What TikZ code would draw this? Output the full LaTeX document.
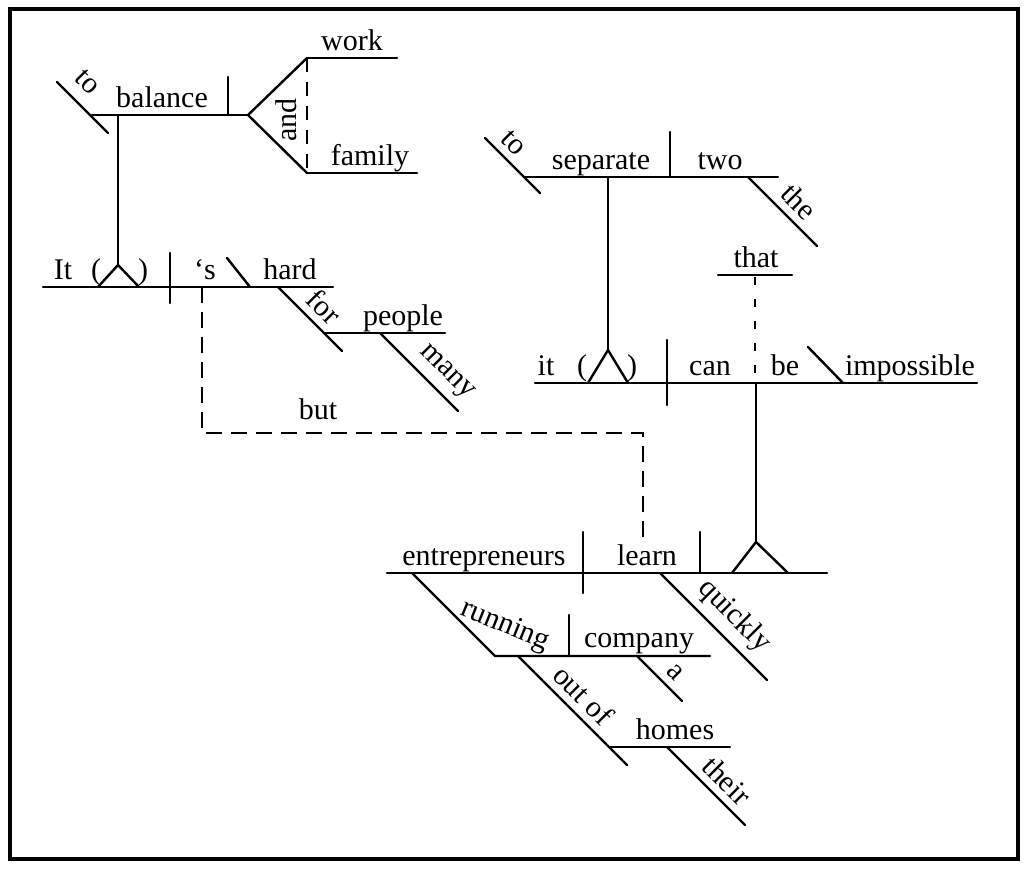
\documentclass[tikz,border=0pt]{standalone}
\usepackage{fontspec}
\setmainfont{Liberation Serif}
\usetikzlibrary{positioning}

\begin{document}
\begin{tikzpicture}[x=0.5pt,y=-0.5pt,
  diag/.style={line width=1.2pt,line cap=round},
  wrd/.style={anchor=base,inner sep=0pt,font=\fontsize{15}{18}\selectfont},
  onslant/.style={sloped,above,inner sep=3.5pt,font=\fontsize{15}{18}\selectfont},
  link/.style={line width=1.2pt,dash pattern=on 8pt off 4.5pt}]
  \useasboundingbox (0,0) rectangle (1024,871);
  \draw[line width=2pt] (10,9) rectangle (1018,859);

  % to balance work and family
  \draw[diag] (57,82) -- node[onslant,pos=0.3,inner sep=6pt] (toA) {to} (108,133);
  \draw[diag] (92,115) -- (248,115);
  \draw[diag] (228,77) -- (228,115);
  \node[wrd] (balance) at (162,108) {balance};
  \draw[diag] (307,58) -- (248,115) -- (307,173);
  \draw[line width=1.2pt,dash pattern=on 7pt off 5pt] (307,58) -- (307,173);
  \node[font=\fontsize{15}{18}\selectfont,rotate=90,inner sep=0pt] (and) at (286,120) {and};
  \draw[diag] (307,58) -- (397,58);
  \node[wrd] (work) at (352,51) {work};
  \draw[diag] (307,173) -- (417,173);
  \node[wrd] (family) at (370,166) {family};
  \draw[diag] (118,115) -- (118,265);

  % It ('s hard for many people)
  \draw[diag] (43,287) -- (333,287);
  \node[wrd] (It) at (63,280) {It};
  \node[wrd] (lparA) at (96,280) {(};
  \node[wrd] (rparA) at (143,280) {)};
  \draw[diag] (98,287) -- (118,265) -- (139,287);
  \draw[diag] (170,253) -- (170,303);
  \node[wrd] (s) at (205,280) {\textquoteleft s};
  \draw[diag] (227,258) -- (250,287);
  \node[wrd] (hard) at (290,280) {hard};
  \draw[diag] (278,287) -- node[onslant,pos=0.52] (for) {for} (342,351);
  \draw[diag] (324,333) -- (445,333);
  \node[wrd] (people) at (403,326) {people};
  \draw[diag] (380,333) -- node[onslant,pos=0.68] (many) {many} (458,411);

  % but
  \draw[link] (202,287) |- (643,433) -- (643,545);
  \node[wrd] (but) at (318,420) {but};

  % to separate the two
  \draw[diag] (485,138) -- node[onslant,pos=0.3] (toB) {to} (540,193);
  \draw[diag] (524,177) -- (778,177);
  \node[wrd] (separate) at (601,170) {separate};
  \draw[diag] (670,132) -- (670,177);
  \node[wrd] (two) at (720,170) {two};
  \draw[diag] (748,177) -- node[onslant,pos=0.55] (the) {the} (817,246);
  \draw[diag] (608,177) -- (608,350);

  % it can be impossible that
  \draw[diag] (535,383) -- (977,383);
  \node[wrd] (it) at (546,376) {it};
  \node[wrd] (lparB) at (582,376) {(};
  \node[wrd] (rparB) at (632,376) {)};
  \draw[diag] (588,383) -- (608,350) -- (628,383);
  \draw[diag] (667,340) -- (667,405);
  \node[wrd] (can) at (710,376) {can};
  \node[wrd] (be) at (785,376) {be};
  \draw[diag] (808,347) -- (843,383);
  \node[wrd] (impossible) at (910,376) {impossible};
  \draw[diag] (718,275) -- (792,275);
  \node[wrd] (that) at (756,268) {that};
  \draw[line width=1.2pt,dash pattern=on 4pt off 7pt] (755,277) -- (755,383);
  \draw[diag] (756,383) -- (756,542);

  % entrepreneurs learn quickly
  \draw[diag] (387,573) -- (827,573);
  \node[wrd] (entrepreneurs) at (484,566) {entrepreneurs};
  \draw[diag] (583,532) -- (583,593);
  \node[wrd] (learn) at (647,566) {learn};
  \draw[diag] (700,532) -- (700,573);
  \draw[diag] (732,573) -- (756,542) -- (788,573);
  \draw[diag] (660,573) -- node[onslant,pos=0.55] (quickly) {quickly} (767,680);

  % running a company out of their homes
  \draw[diag] (412,573) -- (495,656) -- (710,656);
  \node[font=\fontsize{15}{18}\selectfont,rotate=-22,inner sep=0pt] (running) at (505,626) {running};
  \draw[diag] (569,615) -- (569,656);
  \node[wrd] (company) at (639,648) {company};
  \draw[diag] (637,656) -- node[onslant,pos=0.6] (a) {a} (682,701);
  \draw[diag] (518,656) -- node[onslant,pos=0.48] (outof) {out of} (627,765);
  \draw[diag] (609,747) -- (730,747);
  \node[wrd] (homes) at (675,740) {homes};
  \draw[diag] (667,747) -- node[onslant,pos=0.6] (their) {their} (745,825);
\end{tikzpicture}
\end{document}
